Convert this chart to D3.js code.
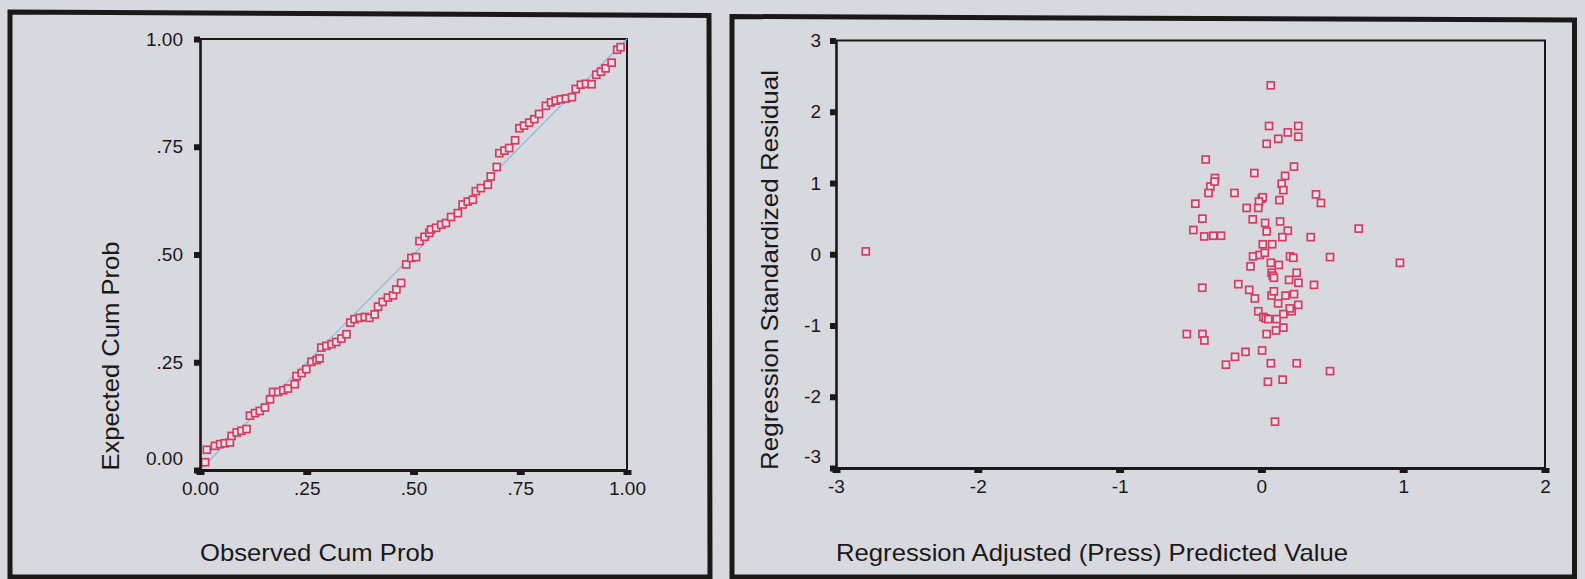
<!DOCTYPE html>
<html>
<head>
<meta charset="utf-8">
<script src="https://cdn.jsdelivr.net/npm/d3@7"></script>
<style>
  html, body { margin: 0; padding: 0; background: #d7d9df; }
  svg { display: block; }
  text { font-family: "Liberation Sans", Arial, sans-serif; fill: #1b1818; }
</style>
</head>
<body>
<svg id="chart" width="1585" height="579"></svg>
<script>
// Normal P-P plot of the regression standardized residuals
const ppTicks = [0, 0.25, 0.5, 0.75, 1];
const ppTickLabels = ["0.00", ".25", ".50", ".75", "1.00"];
const ppDiagonal = [0, 1];
const ppObserved = [
  0.012, 0.016, 0.035, 0.047, 0.058, 0.070, 0.074, 0.086, 0.097, 0.109,
  0.117, 0.129, 0.140, 0.152, 0.164, 0.171, 0.183, 0.195, 0.206, 0.222,
  0.226, 0.238, 0.249, 0.261, 0.273, 0.280, 0.284, 0.296, 0.308, 0.319,
  0.331, 0.343, 0.352, 0.362, 0.374, 0.386, 0.397, 0.409, 0.417, 0.428,
  0.440, 0.452, 0.460, 0.471, 0.483, 0.495, 0.506, 0.514, 0.526, 0.537,
  0.541, 0.553, 0.565, 0.576, 0.588, 0.604, 0.615, 0.627, 0.639, 0.646,
  0.658, 0.674, 0.681, 0.695, 0.701, 0.713, 0.724, 0.738, 0.748, 0.759,
  0.771, 0.783, 0.794, 0.810, 0.822, 0.833, 0.845, 0.857, 0.871, 0.880,
  0.892, 0.904, 0.917, 0.928, 0.939, 0.950, 0.964, 0.977, 0.985
];
const ppExpected = [
  0.018, 0.047, 0.056, 0.060, 0.062, 0.064, 0.079, 0.087, 0.091, 0.095,
  0.126, 0.132, 0.137, 0.145, 0.164, 0.181, 0.181, 0.185, 0.189, 0.199,
  0.218, 0.225, 0.234, 0.251, 0.255, 0.259, 0.284, 0.288, 0.292, 0.297,
  0.305, 0.315, 0.342, 0.350, 0.353, 0.355, 0.353, 0.361, 0.379, 0.390,
  0.400, 0.405, 0.419, 0.434, 0.477, 0.492, 0.494, 0.531, 0.541, 0.550,
  0.558, 0.562, 0.569, 0.573, 0.587, 0.596, 0.616, 0.623, 0.627, 0.647,
  0.654, 0.662, 0.681, 0.703, 0.735, 0.741, 0.747, 0.765, 0.793, 0.799,
  0.806, 0.814, 0.826, 0.845, 0.853, 0.857, 0.860, 0.862, 0.865, 0.884,
  0.894, 0.896, 0.895, 0.917, 0.924, 0.932, 0.945, 0.975, 0.981
];

// Residuals against adjusted (PRESS) predicted values
const predTicks = [-3, -2, -1, 0, 1, 2];
const residTicks = [-3, -2, -1, 0, 1, 2, 3];
const predicted = [
  0.066, 0.054, 0.260, 0.186, 0.260, 0.119, 0.037, -0.393, 0.230, -0.050,
  0.167, -0.327, 0.143, -0.360, -0.330, 0.155, -0.373, -0.190, 0.385, 0.002,
  0.010, -0.017, 0.127, 0.420, -0.466, -0.104, -0.022, -0.416, -0.061, 0.026,
  0.132, 0.037, 0.186, 0.686, -0.480, -0.403, -0.339, -0.285, 0.148, 0.348,
  0.010, 0.076, 0.484, 0.977, -0.059, -0.012, 0.024, 0.202, 0.225, -0.077,
  0.067, 0.123, 0.072, 0.080, 0.088, 0.249, 0.195, 0.261, 0.371, -0.417,
  -0.163, -0.086, -0.046, 0.072, 0.088, 0.118, 0.170, 0.230, 0.260, 0.213,
  0.200, 0.155, -0.022, 0.013, 0.030, 0.049, 0.107, 0.155, 0.103, 0.037,
  -0.526, -0.416, -0.402, -0.112, 0.005, -0.186, -0.250, 0.067, 0.249, 0.484,
  0.046, 0.150, 0.096, -2.790
];
const residual = [
  2.37, 1.80, 1.80, 1.71, 1.65, 1.62, 1.55, 1.33, 1.23, 1.14,
  1.10, 1.07, 0.99, 0.95, 1.02, 0.90, 0.86, 0.86, 0.84, 0.78,
  0.80, 0.74, 0.76, 0.72, 0.71, 0.65, 0.65, 0.50, 0.49, 0.44,
  0.46, 0.32, 0.33, 0.36, 0.34, 0.25, 0.26, 0.26, 0.24, 0.24,
  0.14, 0.14, -0.04, -0.12, -0.03, -0.01, 0.02, -0.03, -0.05, -0.17,
  -0.12, -0.15, -0.26, -0.30, -0.33, -0.26, -0.36, -0.40, -0.43, -0.47,
  -0.42, -0.50, -0.62, -0.58, -0.52, -0.69, -0.58, -0.56, -0.71, -0.80,
  -0.76, -0.84, -0.80, -0.88, -0.90, -0.91, -0.91, -1.03, -1.07, -1.12,
  -1.12, -1.12, -1.21, -1.37, -1.35, -1.44, -1.55, -1.53, -1.53, -1.64,
  -1.79, -1.76, -2.35, 0.04
];

const INK = "#1b1818";
const MARK = "#d63c62";
const MARK_FILL = "#e3e1e7";
const svg = d3.select("#chart");

// Outer panel frames
const frames = [
  [[10, 12], [709, 15.5], [710, 577], [10, 577]],
  [[732, 16.5], [1574.5, 20], [1574.5, 577], [732, 577]]
];
svg.selectAll("path.frame").data(frames).join("path")
  .attr("class", "frame")
  .attr("d", d => "M" + d.map(p => p.join(",")).join("L") + "Z")
  .attr("fill", "none").attr("stroke", INK).attr("stroke-width", 5)
  .attr("stroke-linejoin", "miter");

function drawPanel(cfg) {
  const g = svg.append("g");
  const x = d3.scaleLinear().domain(cfg.xDomain).range(cfg.xRange);
  const y = d3.scaleLinear().domain(cfg.yDomain).range(cfg.yRange);

  // top and right edges of the plot box
  g.append("path")
    .attr("d", `M${cfg.xRange[0]},${cfg.yRange[1]}H${cfg.xRange[1]}V${cfg.yRange[0]}`)
    .attr("fill", "none").attr("stroke", INK).attr("stroke-width", 2);

  if (cfg.extra) cfg.extra(g, x, y);

  // markers: hollow squares
  const s = 7;
  g.selectAll("rect.pt").data(cfg.xs.map((v, i) => [v, cfg.ys[i]])).join("rect")
    .attr("class", "pt")
    .attr("x", d => x(d[0]) - s / 2).attr("y", d => y(d[1]) - s / 2)
    .attr("width", s).attr("height", s)
    .attr("fill", MARK_FILL).attr("stroke", MARK).attr("stroke-width", 1.7);

  const fmt = (ticks, labels) => d => labels ? labels[ticks.indexOf(d)] : String(d);

  const ax = g.append("g").attr("transform", `translate(0,${cfg.yRange[0]})`)
    .call(d3.axisBottom(x).tickValues(cfg.xTicks).tickFormat(fmt(cfg.xTicks, cfg.xLabels))
      .tickSize(5).tickSizeOuter(0).tickPadding(7));
  ax.select(".domain").attr("stroke", INK).attr("stroke-width", 3);
  ax.selectAll(".tick line").attr("stroke", INK).attr("stroke-width", 8);
  ax.selectAll(".tick text").attr("font-size", 19).attr("fill", INK)
    .style("font-family", '"Liberation Sans", Arial, sans-serif');

  const ay = g.append("g").attr("transform", `translate(${cfg.xRange[0]},0)`)
    .call(d3.axisLeft(y).tickValues(cfg.yTicks).tickFormat(fmt(cfg.yTicks, cfg.yLabels))
      .tickSize(6).tickSizeOuter(0).tickPadding(cfg.yPad));
  ay.select(".domain").attr("stroke", INK).attr("stroke-width", 2.6);
  ay.selectAll(".tick line").attr("stroke", INK).attr("stroke-width", 6);
  ay.selectAll(".tick text").attr("font-size", 19).attr("fill", INK)
    .style("font-family", '"Liberation Sans", Arial, sans-serif')
    .attr("y", d => d === cfg.yDomain[0] ? -12 : 0);

  // axis titles
  g.append("text").text(cfg.xTitle)
    .attr("x", cfg.xTitlePos[0]).attr("y", cfg.xTitlePos[1])
    .attr("text-anchor", "middle").attr("font-size", 24)
    .attr("textLength", cfg.xTitleLen).attr("lengthAdjust", "spacingAndGlyphs");
  g.append("text").text(cfg.yTitle)
    .attr("transform", `translate(${cfg.yTitlePos[0]},${cfg.yTitlePos[1]}) rotate(-90)`)
    .attr("text-anchor", "middle").attr("font-size", 24)
    .attr("textLength", cfg.yTitleLen).attr("lengthAdjust", "spacingAndGlyphs");
}

drawPanel({
  xDomain: [0, 1], yDomain: [0, 1],
  xRange: [200, 627], yRange: [470, 39],
  xTicks: ppTicks, yTicks: ppTicks, xLabels: ppTickLabels, yLabels: ppTickLabels,
  yPad: 11,
  xs: ppObserved, ys: ppExpected,
  xTitle: "Observed Cum Prob", xTitlePos: [317, 561], xTitleLen: 234,
  yTitle: "Expected Cum Prob", yTitlePos: [119, 356], yTitleLen: 229,
  extra: (g, x, y) => {
    g.append("line")
      .attr("x1", x(ppDiagonal[0])).attr("y1", y(ppDiagonal[0]))
      .attr("x2", x(ppDiagonal[1])).attr("y2", y(ppDiagonal[1]))
      .attr("stroke", "#8db6d6").attr("stroke-width", 1.2);
  }
});

drawPanel({
  xDomain: [-3, 2], yDomain: [-3, 3],
  xRange: [836, 1545], yRange: [468, 40.5],
  xTicks: predTicks, yTicks: residTicks,
  yPad: 9,
  xs: predicted, ys: residual,
  xTitle: "Regression Adjusted (Press) Predicted Value", xTitlePos: [1092, 561], xTitleLen: 512,
  yTitle: "Regression Standardized Residual", yTitlePos: [778, 270], yTitleLen: 400
});
</script>
</body>
</html>
